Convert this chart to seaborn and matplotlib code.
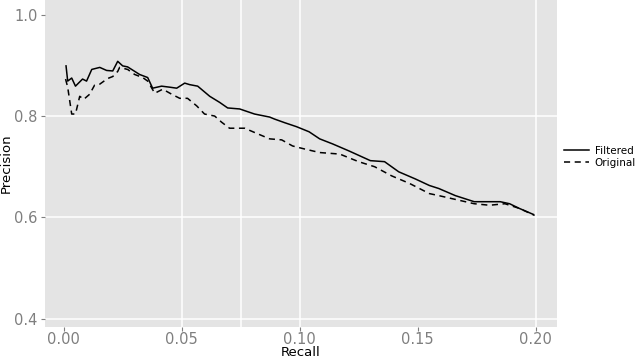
import pandas as pd
import matplotlib
matplotlib.use("Agg")
import matplotlib.pyplot as plt
import seaborn as sns

# Filtered (linha cheia)
recall_filtered = [0.001, 0.0017, 0.0034, 0.005, 0.008, 0.0097, 0.0119, 0.0153, 0.0182, 0.0208,
                   0.0229, 0.025, 0.0271, 0.0322, 0.0356, 0.0377, 0.0415, 0.0449, 0.0479, 0.0513,
                   0.0534, 0.0568, 0.0619, 0.0661, 0.0695, 0.0746, 0.0809, 0.0873, 0.0894, 0.0936,
                   0.0987, 0.104, 0.1085, 0.114, 0.121, 0.130, 0.136, 0.142, 0.149, 0.155,
                   0.159, 0.166, 0.174, 0.185, 0.189, 0.193, 0.199]
precision_filtered = [0.899, 0.869, 0.875, 0.859, 0.873, 0.869, 0.892, 0.896, 0.890, 0.889,
                      0.908, 0.899, 0.897, 0.882, 0.876, 0.855, 0.859, 0.857, 0.855, 0.865,
                      0.862, 0.859, 0.839, 0.827, 0.816, 0.814, 0.804, 0.798, 0.794, 0.787,
                      0.779, 0.769, 0.755, 0.745, 0.731, 0.712, 0.710, 0.690, 0.676, 0.663,
                      0.657, 0.643, 0.631, 0.631, 0.627, 0.618, 0.606]

# Original (tracejada)
recall_original = [0.0008, 0.0017, 0.0034, 0.005, 0.0068, 0.0085, 0.011, 0.0131, 0.0153, 0.0186,
                   0.0208, 0.0229, 0.0237, 0.0271, 0.0301, 0.0335, 0.0356, 0.0386, 0.042, 0.0458,
                   0.0492, 0.0525, 0.0564, 0.0597, 0.064, 0.0669, 0.0703, 0.0767, 0.0822, 0.0873,
                   0.0924, 0.097, 0.1021, 0.1085, 0.117, 0.125, 0.1318, 0.139, 0.1466, 0.155,
                   0.159, 0.174, 0.1805, 0.187, 0.193, 0.1996]
precision_original = [0.873, 0.857, 0.804, 0.804, 0.839, 0.833, 0.843, 0.861, 0.863, 0.874,
                      0.878, 0.888, 0.896, 0.892, 0.882, 0.876, 0.869, 0.845, 0.853, 0.843,
                      0.835, 0.835, 0.820, 0.804, 0.800, 0.788, 0.776, 0.776, 0.765, 0.755,
                      0.753, 0.741, 0.735, 0.728, 0.725, 0.710, 0.700, 0.682, 0.667, 0.647,
                      0.643, 0.627, 0.624, 0.627, 0.618, 0.604]

df = pd.concat([
    pd.DataFrame({"Recall": recall_filtered, "Precision": precision_filtered, "Tipo": "Filtered"}),
    pd.DataFrame({"Recall": recall_original, "Precision": precision_original, "Tipo": "Original"}),
])

fig = plt.figure(figsize=(6.4, 3.6), dpi=100)
ax = fig.add_axes([0.070, 0.092, 0.800, 0.908])
ax.set_facecolor("#e4e4e4")
for s in ax.spines.values():
    s.set_visible(False)

# grade branca (como no original)
for y in [0.4, 0.6, 0.8]:
    ax.axhline(y, color="white", lw=1.1, zorder=0)
for x in [0.05, 0.075, 0.10, 0.20]:
    ax.axvline(x, color="white", lw=1.1, zorder=0)

sns.lineplot(data=df, x="Recall", y="Precision", style="Tipo", color="black",
             dashes={"Filtered": "", "Original": (4, 3)}, lw=1.1, sort=False,
             estimator=None, ax=ax)

ax.set_xlim(-0.008, 0.209)
ax.set_ylim(0.384, 1.029)
ax.set_xticks([0.0, 0.05, 0.10, 0.15, 0.20])
ax.set_xticklabels(["0.00", "0.05", "0.10", "0.15", "0.20"])
ax.set_yticks([0.4, 0.6, 0.8, 1.0])
ax.set_yticklabels(["0.4", "0.6", "0.8", "1.0"])
ax.tick_params(colors="#7f7f7f", labelsize=10.5, length=3, width=0.8, pad=2)
ax.tick_params(axis="x", pad=1)
ax.set_xlabel("")
ax.set_ylabel("Precision", fontsize=9.5, color="black")
ax.yaxis.set_label_coords(-0.062, 0.5)
fig.text(0.07 + 0.8 * 0.5, 0.003, "Recall", fontsize=9.5, color="black",
         ha="center", va="bottom")

leg = ax.legend(title=None, loc="center left", bbox_to_anchor=(1.005, 0.52),
                frameon=False, fontsize=7.5, handlelength=2.4, borderaxespad=0,
                handletextpad=0.6, labelspacing=0.2)

fig.savefig("out.png", dpi=100)
